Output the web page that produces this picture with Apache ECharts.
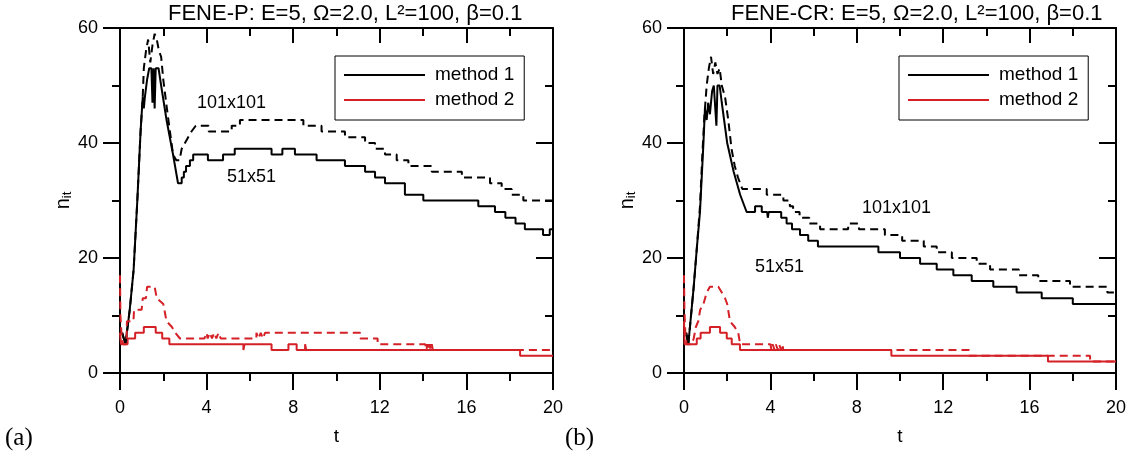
<!DOCTYPE html>
<html>
<head>
<meta charset="utf-8">
<script src="https://cdn.jsdelivr.net/npm/echarts@6/dist/echarts.min.js"></script>
<style>
html, body { margin: 0; padding: 0; background: #fff; }
#main { width: 1133px; height: 461px; }
</style>
</head>
<body>
<div id="main"></div>
<script>
// FENE-P panel (a): [t, n_it]
var pBlack51 = [[0.1,7],[0.25,5],[0.45,11],[0.63,18],[0.8,30],[0.95,42],[1.05,48],[1.1,46],[1.15,48],[1.25,51],[1.35,53],[1.45,53],[1.5,47],[1.55,53],[1.6,46],[1.65,53],[1.78,53],[1.9,50],[2.15,44],[2.45,38],[2.68,33],[2.85,33],[2.85,34],[2.95,34],[2.95,35],[3.05,35],[3.05,36],[3.23,36],[3.23,37],[3.38,37],[3.38,38],[4.06,38],[4.06,37],[4.76,37],[4.76,38],[5.3,38],[5.3,39],[7.0,39],[7.0,38],[7.5,38],[7.5,39],[8.08,39],[8.08,38],[9.08,38],[9.08,37],[10.39,37],[10.39,36],[11.32,36],[11.32,35],[11.78,35],[11.78,34],[12.24,34],[12.24,33],[13.16,33],[13.16,31],[14.01,31],[14.01,30],[16.55,30],[16.55,29],[17.32,29],[17.32,28],[17.8,28],[17.8,27],[18.27,27],[18.27,26],[18.7,26],[18.7,25],[19.54,25],[19.54,24],[19.85,24],[19.85,25],[20,25]];
var pBlack101 = [[0.1,7],[0.25,5],[0.45,11],[0.63,18],[0.8,30],[0.95,42],[1.05,48],[1.1,53],[1.2,56],[1.3,58],[1.4,54],[1.5,57],[1.6,59],[1.7,58],[1.8,56],[1.9,55],[2.0,51],[2.2,45],[2.45,38],[2.6,37],[2.75,37],[2.85,39],[3.0,40],[3.15,41],[3.3,42],[3.5,43],[4.1,43],[4.1,42],[5.16,42],[5.16,43],[5.54,43],[5.54,44],[8.47,44],[8.47,43],[9.31,43],[9.31,42],[10.39,42],[10.39,41],[11.32,41],[11.32,40],[11.78,40],[11.78,39],[12.24,39],[12.24,38],[12.78,38],[12.78,37],[13.32,37],[13.32,36],[14.4,36],[14.4,35],[15.79,35],[15.79,34],[17.09,34],[17.09,33],[17.63,33],[17.63,32],[18.09,32],[18.09,31],[18.63,31],[18.63,30],[20,30]];
var pRed51 = [[0,7],[0.05,5],[0.35,5],[0.35,6],[0.7,6],[0.7,7],[1.1,7],[1.1,8],[1.65,8],[1.65,7],[1.95,7],[1.95,6],[2.28,6],[2.28,5],[5.7,5],[5.7,4],[5.75,4],[5.75,5],[7.0,5],[7.0,4],[7.78,4],[7.78,5],[8.16,5],[8.16,4],[8.55,4],[8.55,5],[8.6,5],[8.6,4],[18.48,4],[18.48,3],[20,3]];
var pRed101 = [[0,17],[0.02,10],[0.08,6],[0.15,5],[0.3,5],[0.32,9],[0.62,9],[0.65,11],[1.0,11],[1.05,13],[1.2,13],[1.25,15],[1.6,15],[1.7,13],[2.0,12],[2.15,9],[2.4,8],[2.55,7],[2.77,6],[3.9,6],[4.0,7],[4.05,6],[4.15,7],[4.25,6],[4.35,7],[4.45,6],[4.55,7],[4.65,6],[6.3,6],[6.3,7],[6.4,6],[6.5,7],[6.6,6],[6.7,7],[11.09,7],[11.09,6],[11.9,6],[11.9,5],[14.1,5],[14.15,4],[14.2,5],[14.25,4],[14.3,5],[14.35,4],[14.4,5],[14.45,4],[20,4]];

// FENE-CR panel (b)
var cBlack51 = [[0.1,7],[0.2,5],[0.45,15],[0.6,22],[0.74,28],[0.9,40],[0.97,46],[1.05,44],[1.12,47],[1.2,45],[1.3,49],[1.38,50],[1.45,50],[1.5,43],[1.55,50],[1.65,50],[1.75,47],[2.0,40],[2.3,35],[2.6,31],[2.9,28],[3.29,28],[3.29,29],[3.6,29],[3.6,28],[3.85,28],[3.88,27],[3.92,28],[4.5,28],[4.5,27],[4.75,27],[4.75,26],[5.0,26],[5.0,25],[5.37,25],[5.37,24],[5.75,24],[5.75,23],[6.2,23],[6.2,22],[9.0,22],[9.0,21],[10.0,21],[10.0,20],[10.93,20],[10.93,19],[11.7,19],[11.7,18],[12.47,18],[12.47,17],[13.32,17],[13.32,16],[14.32,16],[14.32,15],[15.4,15],[15.4,14],[16.56,14],[16.56,13],[18.0,13],[18.0,12],[20,12]];
var cBlack101 = [[0.1,7],[0.2,5],[0.45,15],[0.6,22],[0.74,29],[0.85,38],[0.95,45],[1.05,50],[1.15,53],[1.25,55],[1.35,52],[1.45,54],[1.55,52],[1.65,53],[1.75,50],[1.9,48],[2.05,44],[2.2,39],[2.35,36],[2.5,34],[2.7,32],[3.83,32],[3.83,31],[4.6,31],[4.6,30],[4.9,30],[4.9,29],[5.05,29],[5.05,28],[5.35,28],[5.35,27],[5.8,27],[5.8,26],[6.3,26],[6.3,25],[7.6,25],[7.6,26],[8.1,26],[8.1,25],[9.3,25],[9.3,24],[10.1,24],[10.1,23],[11.1,23],[11.1,22],[11.7,22],[11.7,21],[12.4,21],[12.4,20],[13.55,20],[13.55,19],[14.17,19],[14.17,18],[15.5,18],[15.5,17],[16.4,17],[16.4,16],[17.87,16],[17.87,15],[19.6,15],[19.6,14],[20,14]];
var cRed51 = [[0,9],[0.03,5],[0.59,5],[0.59,6],[0.77,6],[0.77,7],[1.2,7],[1.2,8],[1.67,8],[1.67,7],[1.98,7],[1.98,6],[2.21,6],[2.21,5],[2.59,5],[2.59,4],[9.6,4],[9.6,3],[16.85,3],[16.85,2],[20,2]];
var cRed101 = [[0,17],[0.02,11],[0.06,7],[0.12,5],[0.35,5],[0.45,6],[0.55,8],[0.66,9],[0.75,11],[0.9,12],[1.05,14],[1.2,15],[1.59,15],[1.75,14],[1.9,13],[2.0,12],[2.13,9],[2.35,8],[2.51,7],[2.6,5],[4.0,5],[4.05,4],[4.1,5],[4.2,4],[4.25,5],[4.35,4],[4.4,5],[4.5,4],[4.55,5],[4.6,4],[13.2,4],[13.2,3],[18.8,3],[18.8,2],[20,2]];

var titles = ['FENE-P: E=5, \u03A9=2.0, L\u00B2=100, \u03B2=0.1', 'FENE-CR: E=5, \u03A9=2.0, L\u00B2=100, \u03B2=0.1'];
var legendNames = ['method 1', 'method 2'];
var xTicks = { min: 0, max: 20, step: 4 };
var yTicks = { min: 0, max: 60, step: 20 };

var FONT = 'Liberation Sans, Arial, sans-serif';
var RED = '#d42026';
var BLACK_LINE = { color: '#000', width: 2 };

var chart = echarts.init(document.getElementById('main'));

function xAxis(gi, top) {
  return {
    type: 'value', gridIndex: gi, position: top ? 'top' : 'bottom',
    min: xTicks.min, max: xTicks.max, interval: xTicks.step,
    axisLine: { show: true, onZero: false, lineStyle: BLACK_LINE },
    axisTick: { show: true, inside: top, length: top ? 15 : 17, lineStyle: BLACK_LINE },
    minorTick: { show: true, splitNumber: 2, length: 8, lineStyle: BLACK_LINE },
    splitLine: { show: false },
    axisLabel: { show: !top, color: '#000', fontSize: 18, fontFamily: FONT, margin: 26 },
    name: top ? '' : 't', nameLocation: 'middle', nameGap: 54,
    nameTextStyle: { color: '#000', fontSize: 19, fontFamily: FONT }
  };
}

function yAxis(gi, right) {
  return {
    type: 'value', gridIndex: gi, position: right ? 'right' : 'left',
    min: yTicks.min, max: yTicks.max, interval: yTicks.step,
    axisLine: { show: true, onZero: false, lineStyle: BLACK_LINE },
    axisTick: { show: true, inside: right, length: 17, lineStyle: BLACK_LINE },
    minorTick: { show: true, splitNumber: 2, length: 8, lineStyle: BLACK_LINE },
    splitLine: { show: false },
    axisLabel: { show: !right, color: '#000', fontSize: 18, fontFamily: FONT, margin: 22 },
    name: right ? '' : '{n|n}{s|it}', nameLocation: 'middle', nameGap: 42, nameRotate: 90,
    nameTextStyle: {
      color: '#000', fontFamily: FONT,
      rich: {
        n: { fontSize: 20, fontFamily: FONT, color: '#000' },
        s: { fontSize: 13, fontFamily: FONT, color: '#000', padding: [9, 0, 0, 0] }
      }
    }
  };
}

// thin strip grids along each frame side: their split lines give the major/minor tick marks
function stripAxis(gi, ticks, minor) {
  return {
    type: 'value', gridIndex: gi, min: ticks.min, max: ticks.max, interval: ticks.step,
    axisLine: { show: false }, axisTick: { show: false }, axisLabel: { show: false },
    minorTick: { show: false, splitNumber: 2 },
    splitLine: { show: !minor, lineStyle: BLACK_LINE },
    minorSplitLine: { show: minor, lineStyle: BLACK_LINE }
  };
}
function hiddenAxis(gi) {
  return { type: 'value', gridIndex: gi, min: 0, max: 1, show: false };
}

var grids = [], xAxes = [], yAxes = [];
function addGrid(box, xa, ya) {
  box.outerBoundsMode = 'none';
  grids.push(box);
  xAxes.push(xa);
  yAxes.push(ya);
  return grids.length - 1;
}

function addPanel(L, W) {
  var T = 28, H = 345;
  var main = addGrid({ left: L, top: T, width: W, height: H }, null, null);
  xAxes[main] = xAxis(main, false); yAxes[main] = yAxis(main, false);
  var mir = addGrid({ left: L, top: T, width: W, height: H }, null, null);
  xAxes[mir] = xAxis(mir, true); yAxes[mir] = yAxis(mir, true);
  var strips = [
    [{ left: L, top: T + H, width: W, height: 17 }, 'x', false],
    [{ left: L, top: T + H, width: W, height: 8 }, 'x', true],
    [{ left: L, top: T, width: W, height: 15 }, 'x', false],
    [{ left: L, top: T, width: W, height: 8 }, 'x', true],
    [{ left: L - 17, top: T, width: 17, height: H }, 'y', false],
    [{ left: L - 8, top: T, width: 8, height: H }, 'y', true],
    [{ left: L + W - 17, top: T, width: 17, height: H }, 'y', false],
    [{ left: L + W - 8, top: T, width: 8, height: H }, 'y', true]
  ];
  strips.forEach(function (s) {
    var gi = addGrid(s[0], null, null);
    if (s[1] === 'x') { xAxes[gi] = stripAxis(gi, xTicks, s[2]); yAxes[gi] = hiddenAxis(gi); }
    else { yAxes[gi] = stripAxis(gi, yTicks, s[2]); xAxes[gi] = hiddenAxis(gi); }
  });
  return main;
}

var gA = addPanel(120, 433);
var gB = addPanel(684, 432);

function line(name, data, color, dashed, gi) {
  return {
    name: name, type: 'line', data: data,
    xAxisIndex: gi, yAxisIndex: gi,
    symbol: 'none', showSymbol: false,
    lineStyle: { color: color, width: 2, type: dashed ? [8, 5] : 'solid' },
    itemStyle: { color: color }
  };
}

function legend(left) {
  return {
    data: legendNames, orient: 'vertical', left: left, top: 56,
    icon: 'rect', itemWidth: 81, itemHeight: 2,
    padding: [9, 10, 10, 9], itemGap: 5,
    borderColor: '#000', borderWidth: 1, backgroundColor: '#fff',
    textStyle: { color: '#000', fontSize: 19, fontFamily: FONT, lineHeight: 20, padding: [0, 0, 0, 5] }
  };
}

function note(text, x, y) {
  return { type: 'text', left: x, top: y, style: { text: text, fill: '#000', font: '18px ' + FONT } };
}

var titleStyle = { fontSize: 22, fontWeight: 'normal', color: '#000', fontFamily: FONT };

var option = {
  animation: false,
  backgroundColor: '#fff',
  title: [
    { text: titles[0], left: 168, top: 3, padding: 0, textStyle: titleStyle },
    { text: titles[1], left: 731, top: 3, padding: 0, textStyle: titleStyle }
  ],
  grid: grids,
  xAxis: xAxes,
  yAxis: yAxes,
  legend: [legend(335), legend(899)],
  graphic: [
    note('101x101', 197, 94),
    note('51x51', 227, 168),
    note('101x101', 862, 199),
    note('51x51', 755, 258),
    { type: 'text', left: 5, top: 426, style: { text: '(a)', fill: '#000', font: '25px Liberation Serif, Times New Roman, serif' } },
    { type: 'text', left: 565, top: 426, style: { text: '(b)', fill: '#000', font: '25px Liberation Serif, Times New Roman, serif' } }
  ],
  series: [
    line('method 1', pBlack51, '#000', false, gA),
    line('method 2', pRed51, RED, false, gA),
    line('101x101 m1', pBlack101, '#000', true, gA),
    line('101x101 m2', pRed101, RED, true, gA),
    line('method 1', cBlack51, '#000', false, gB),
    line('method 2', cRed51, RED, false, gB),
    line('101x101 m1', cBlack101, '#000', true, gB),
    line('101x101 m2', cRed101, RED, true, gB)
  ]
};

chart.setOption(option);
</script>
</body>
</html>
